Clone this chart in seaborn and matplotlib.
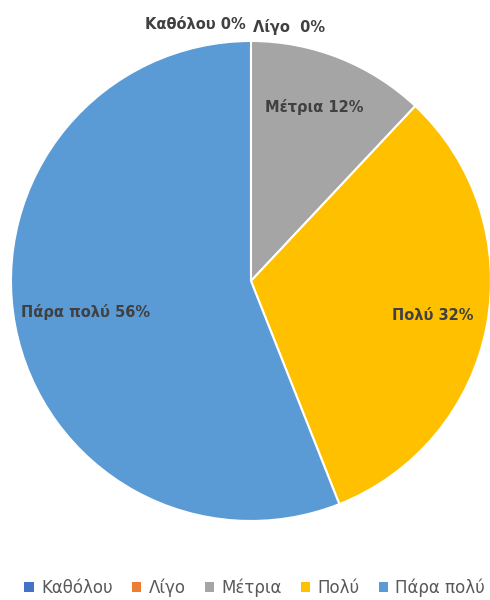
import numpy as np
import matplotlib
matplotlib.use("Agg")
import matplotlib.pyplot as plt
from matplotlib.patches import Patch
import seaborn as sns

# Survey responses
categories = ["Καθόλου", "Λίγο", "Μέτρια", "Πολύ", "Πάρα πολύ"]
percent = [0, 0, 12, 32, 56]
colors = ["#4472C4", "#ED7D31", "#A5A5A5", "#FFC000", "#5B9BD5"]

sns.set_theme(style="white")
plt.rcParams["font.family"] = ["DejaVu Sans"]

fig = plt.figure(figsize=(4.9, 6.0), dpi=100)
ax = fig.add_axes([0.0224, 0.1317, 0.9796, 0.80])

palette = sns.color_palette(colors)
wedges, _ = ax.pie(
    percent,
    colors=palette,
    startangle=90,
    counterclock=False,
    radius=1.0,
    wedgeprops=dict(edgecolor="white", linewidth=1.5),
)
ax.set_aspect("equal")
ax.set_xlim(-1, 1)
ax.set_ylim(-1, 1)
ax.axis("off")

label_color = "#404040"
# radial position and small horizontal nudge for each visible slice label
dist = {2: 0.78, 3: 0.77, 4: 0.70}
nudge = {2: -0.025, 3: 0.0, 4: 0.0}
for i, (w, cat, p) in enumerate(zip(wedges, categories, percent)):
    txt = f"{cat} {p}%" if cat != "Λίγο" else f"{cat}  {p}%"
    if p == 0:
        # zero-width slices: labels sit just above the top of the pie
        if i == 0:
            ax.text(-0.02, 1.07, txt, ha="right", va="center",
                    fontsize=10.5, fontweight="bold", color=label_color, clip_on=False)
        else:
            ax.text(0.01, 1.06, txt, ha="left", va="center",
                    fontsize=10.5, fontweight="bold", color=label_color, clip_on=False)
        continue
    ang = np.deg2rad((w.theta1 + w.theta2) / 2)
    r = dist[i]
    ax.text(r * np.cos(ang) + nudge[i], r * np.sin(ang), txt, ha="center", va="center",
            fontsize=10.5, fontweight="bold", color=label_color)

handles = [Patch(facecolor=c, edgecolor="none") for c in palette]
leg = fig.legend(
    handles, categories, loc="center", bbox_to_anchor=(0.52, 0.02),
    ncol=5, frameon=False, handlelength=0.55, handleheight=0.55,
    handletextpad=0.45, columnspacing=1.15, fontsize=12,
)
for t in leg.get_texts():
    t.set_color("#595959")

fig.savefig("out.png", dpi=100)
